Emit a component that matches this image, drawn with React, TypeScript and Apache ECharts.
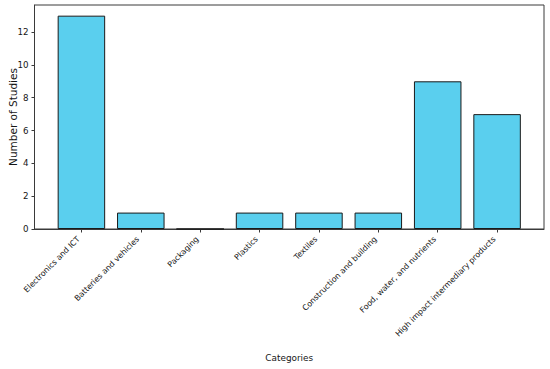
import React, { useEffect, useRef } from "react";
import * as echarts from "echarts";

const categories = [
  "Electronics and ICT",
  "Batteries and vehicles",
  "Packaging",
  "Plastics",
  "Textiles",
  "Construction and building",
  "Food, water, and nutrients",
  "High impact intermediary products",
];
const studies = [13, 1, 0, 1, 1, 1, 9, 7];
const yTicks = [0, 2, 4, 6, 8, 10, 12];
const yMax = 13.65;

const FONT = "DejaVu Sans";
const INK = "#151515";
const FRAME = "#3a3a3a";

export default function App() {
  const ref = useRef<HTMLDivElement>(null);
  useEffect(() => {
    document.body.style.margin = "0";
    if (!ref.current) return;
    const chart = echarts.init(ref.current, undefined, { renderer: "svg" });
    const plotLeft = 34.5;
    const plotRight = 544;
    const plotTop = 5;
    const plotBottom = 229;
    const W = plotRight - plotLeft;
    const unit = W / 8.58;
    const catLeft = plotLeft + 0.29 * unit;
    const catWidth = 8 * unit;
    const frameLine = { show: true, onZero: false, lineStyle: { color: FRAME, width: 1 } };
    chart.setOption({
      animation: false,
      backgroundColor: "#ffffff",
      textStyle: { fontFamily: FONT },
      grid: [
        {
          left: plotLeft,
          width: W,
          top: plotTop,
          bottom: 369 - plotBottom,
          show: true,
          borderColor: FRAME,
          borderWidth: 1,
          backgroundColor: "rgba(0,0,0,0)",
          outerBoundsMode: "none",
        },
        { left: catLeft, width: catWidth, top: plotTop, bottom: 369 - plotBottom, outerBoundsMode: "none" },
      ],
      xAxis: [
        {
          type: "value",
          gridIndex: 0,
          min: -0.79,
          max: 7.79,
          axisLine: frameLine,
          axisTick: { show: false },
          axisLabel: { show: false },
          splitLine: { show: false },
          name: "Categories",
          nameLocation: "middle",
          nameGap: 124,
          nameMoveOverlap: false,
          nameTextStyle: { fontFamily: FONT, fontSize: 8.9, color: INK },
        },
        {
          type: "category",
          gridIndex: 1,
          data: categories,
          axisLine: { show: false },
          axisTick: {
            show: true,
            alignWithLabel: true,
            length: 3.5,
            lineStyle: { color: FRAME, width: 1 },
          },
          axisLabel: {
            interval: 0,
            rotate: 45,
            margin: 6,
            padding: [0, 4, 0, 0],
            fontFamily: FONT,
            fontSize: 7.9,
            color: INK,
          },
          splitLine: { show: false },
        },
      ],
      yAxis: [
        {
          type: "value",
          gridIndex: 0,
          min: 0,
          max: yMax,
          interval: 2,
          axisLine: frameLine,
          axisTick: {
            show: true,
            length: 3,
            customValues: yTicks,
            lineStyle: { color: FRAME, width: 1 },
          },
          axisLabel: {
            customValues: yTicks,
            margin: 6,
            fontFamily: FONT,
            fontSize: 8.7,
            color: INK,
          },
          splitLine: { show: false },
          name: "Number of Studies",
          nameLocation: "middle",
          nameGap: 16,
          nameRotate: 90,
          nameMoveOverlap: false,
          nameTextStyle: { fontFamily: FONT, fontSize: 10.5, color: INK },
        },
        {
          type: "value",
          gridIndex: 1,
          min: 0,
          max: yMax,
          show: false,
        },
      ],
      series: [
        {
          type: "bar",
          xAxisIndex: 1,
          yAxisIndex: 1,
          data: studies,
          barWidth: "80%",
          itemStyle: {
            color: "#5acfee",
            borderColor: "#1a1a1a",
            borderWidth: 1,
          },
        },
      ],
    });
    return () => chart.dispose();
  }, []);
  return <div ref={ref} style={{ width: 550, height: 369 }} />;
}
